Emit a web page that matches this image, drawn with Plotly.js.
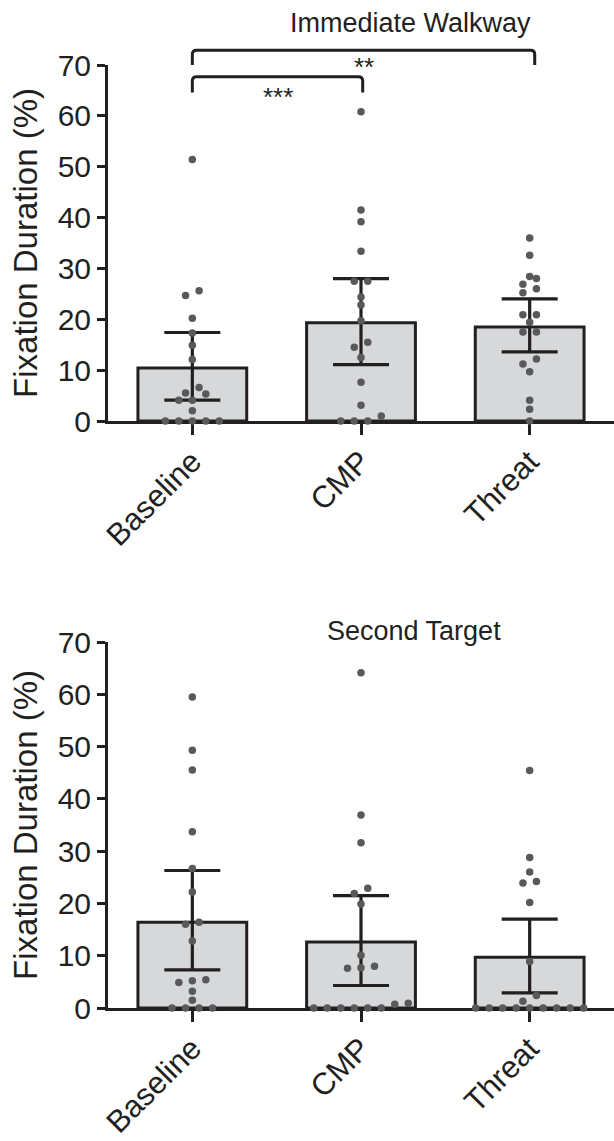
<!DOCTYPE html>
<html>
<head>
<meta charset="utf-8">
<script src="https://cdn.plot.ly/plotly-3.0.1.min.js"></script>
<style>html,body{margin:0;padding:0;background:#ffffff;}</style>
</head>
<body>
<div id="chart" style="width:614px;height:1141px;"></div>
<script>
// ---------------- DATA ----------------
const categories = ['Baseline', 'CMP', 'Threat'];
const yTickVals = [0, 10, 20, 30, 40, 50, 60, 70];

// Immediate Walkway (top panel)
const walkMean  = [10.4, 19.3, 18.5];
const walkUpper = [17.4, 28.0, 24.0];
const walkLower = [4.1, 11.1, 13.6];
const walkBaseline = [51.4, 25.6, 24.7, 20.2, 17.3, 14.9, 12.1, 6.6, 5.5, 5.3, 4.1, 4.1, 2.0, 0, 0, 0, 0, 0];
const walkCMP      = [60.8, 41.5, 39.2, 33.4, 27.5, 27.5, 24.4, 22.8, 19.7, 15.5, 14.5, 12.5, 7.6, 3.1, 1.0, 0, 0, 0];
const walkThreat   = [36.0, 32.6, 28.4, 28.0, 26.9, 26.0, 25.2, 20.9, 20.9, 19.4, 17.5, 17.5, 12.2, 11.2, 9.7, 4.1, 2.3, 0];

// Second Target (bottom panel)
const targetMean  = [16.4, 12.6, 9.7];
const targetUpper = [26.3, 21.5, 17.0];
const targetLower = [7.3, 4.3, 2.9];
const targetBaseline = [59.5, 49.3, 45.5, 33.7, 26.7, 22.2, 16.4, 16.0, 12.8, 5.4, 5.2, 4.9, 3.2, 1.5, 0, 0, 0, 0];
const targetCMP      = [64.1, 36.9, 31.6, 22.9, 21.9, 19.9, 10.1, 8.0, 7.7, 7.6, 0.9, 0.7, 0, 0, 0, 0, 0, 0];
const targetThreat   = [45.4, 28.8, 26.0, 24.2, 23.9, 20.2, 8.9, 2.4, 1.3, 0, 0, 0, 0, 0, 0, 0, 0, 0];

// Significance brackets (top panel): [from category, to category, label]
const sigPairs = [[0, 2, '**'], [0, 1, '***']];

// ---------------- LAYOUT CONSTANTS ----------------
const W = 614, H = 1141;
const marginL = 108;
const yMax = 70;
const xRange = [-0.5, 2.5];
const topDomain = [1 - 421 / H, 1 - 65 / H];
const botDomain = [1 - 1008 / H, 1 - 642 / H];

const ink = '#231f20';
const barFill = '#d7d8da';
const dotColor = '#58595b';
const FONT = 'Liberation Sans, Arial, Helvetica, sans-serif';

const pxPerX = (W - marginL) / (xRange[1] - xRange[0]);
function pxPerY(domain) { return (domain[1] - domain[0]) * H / yMax; }

// Column-scatter layout: values that sit within one dot-row share a row, spread horizontally
function swarm(values, catIndex, pyUnit) {
  const SLOT = 13.5, ROW = 6.5;
  const order = values.map((v, i) => i).sort((a, b) => values[a] - values[b]);
  const xs = new Array(values.length);
  let i = 0;
  while (i < order.length) {
    const start = values[order[i]];
    let j = i;
    while (j < order.length && (values[order[j]] - start) * pyUnit < ROW) j++;
    const n = j - i;
    for (let k = 0; k < n; k++) {
      xs[order[i + k]] = catIndex + (k - (n - 1) / 2) * SLOT / pxPerX;
    }
    i = j;
  }
  return xs;
}

function panel(mean, upper, lower, groups, xa, ya, domain) {
  const traces = [];
  traces.push({
    type: 'bar', x: [0, 1, 2], y: mean, xaxis: xa, yaxis: ya,
    width: 0.645,
    marker: { color: barFill, line: { color: ink, width: 3 } },
    error_y: {
      type: 'data', symmetric: false,
      array: upper.map((u, i) => u - mean[i]),
      arrayminus: lower.map((l, i) => mean[i] - l),
      color: ink, thickness: 3.2, width: 28
    },
    hoverinfo: 'skip', showlegend: false
  });
  const pyu = pxPerY(domain);
  groups.forEach((vals, ci) => {
    traces.push({
      type: 'scatter', mode: 'markers', xaxis: xa, yaxis: ya,
      x: swarm(vals, ci, pyu), y: vals,
      marker: { color: dotColor, size: 7.5, line: { width: 0 } },
      cliponaxis: false, hoverinfo: 'skip', showlegend: false
    });
  });
  return traces;
}

const data = [].concat(
  panel(walkMean, walkUpper, walkLower, [walkBaseline, walkCMP, walkThreat], 'x', 'y', topDomain),
  panel(targetMean, targetUpper, targetLower, [targetBaseline, targetCMP, targetThreat], 'x2', 'y2', botDomain)
);

function xAxis(anchor) {
  return {
    anchor: anchor, domain: [0, 1], range: xRange,
    tickmode: 'array', tickvals: [0, 1, 2], ticktext: categories,
    tickangle: -45, ticks: 'outside', ticklen: 11, tickwidth: 3, tickcolor: ink,
    ticklabelstandoff: -4,
    showline: true, linecolor: ink, linewidth: 3,
    showgrid: false, zeroline: false, layer: 'below traces',
    tickfont: { family: FONT, size: 31, color: ink }, fixedrange: true
  };
}
function yAxis(anchor, domain) {
  return {
    anchor: anchor, domain: domain, range: [0, yMax],
    tickmode: 'array', tickvals: yTickVals,
    ticks: 'outside', ticklen: 8, tickwidth: 3, tickcolor: ink,
    showline: true, linecolor: ink, linewidth: 3,
    showgrid: false, zeroline: false,
    tickfont: { family: FONT, size: 30, color: ink },
    title: { text: 'Fixation Duration (%)', font: { family: FONT, size: 33, color: ink }, standoff: 11 },
    fixedrange: true
  };
}

// y in top-panel data units -> paper
function topPaper(v) { return topDomain[0] + (v / yMax) * (topDomain[1] - topDomain[0]); }

const bracketSpec = [
  { top: 72.9, foot: 70.0, labelY: 69.6, xEnd: 2.03 },
  { top: 67.7, foot: 64.6, labelY: 63.7, xEnd: 1.01 }
];
const shapes = [];
const annotations = [];
sigPairs.forEach((p, i) => {
  const b = bracketSpec[i];
  const x0 = p[0], x1 = b.xEnd;
  const rx = 0.025, ry = 0.8;
  const path = `M ${x0},${topPaper(b.foot)} L ${x0},${topPaper(b.top - ry)} ` +
    `Q ${x0},${topPaper(b.top)} ${x0 + rx},${topPaper(b.top)} ` +
    `L ${x1 - rx},${topPaper(b.top)} Q ${x1},${topPaper(b.top)} ${x1},${topPaper(b.top - ry)} ` +
    `L ${x1},${topPaper(b.foot)}`;
  shapes.push({ type: 'path', xref: 'x', yref: 'paper', path: path, line: { color: ink, width: 3 } });
  annotations.push({
    xref: 'x', yref: 'paper', x: (x0 + x1) / 2, y: topPaper(b.labelY),
    text: p[2], showarrow: false, xanchor: 'center', yanchor: 'middle',
    font: { family: FONT, size: 26, color: ink }
  });
});
annotations.push({
  xref: 'paper', yref: 'paper', x: 367.5 / W, y: 1 - 22.5 / H,
  text: 'Immediate Walkway', showarrow: false, xanchor: 'center', yanchor: 'middle',
  font: { family: FONT, size: 27, color: ink }
});
annotations.push({
  xref: 'paper', yref: 'paper', x: 371 / W, y: 1 - 631 / H,
  text: 'Second Target', showarrow: false, xanchor: 'center', yanchor: 'middle',
  font: { family: FONT, size: 27, color: ink }
});

const layout = {
  width: W, height: H,
  margin: { l: marginL, r: 0, t: 0, b: 0, pad: 0 },
  paper_bgcolor: '#ffffff', plot_bgcolor: 'rgba(0,0,0,0)',
  showlegend: false, bargap: 0,
  font: { family: FONT, color: ink },
  xaxis: xAxis('y'), yaxis: yAxis('x', topDomain),
  xaxis2: xAxis('y2'), yaxis2: yAxis('x2', botDomain),
  shapes: shapes, annotations: annotations
};

Plotly.newPlot('chart', data, layout, { staticPlot: true, displayModeBar: false });
</script>
</body>
</html>
